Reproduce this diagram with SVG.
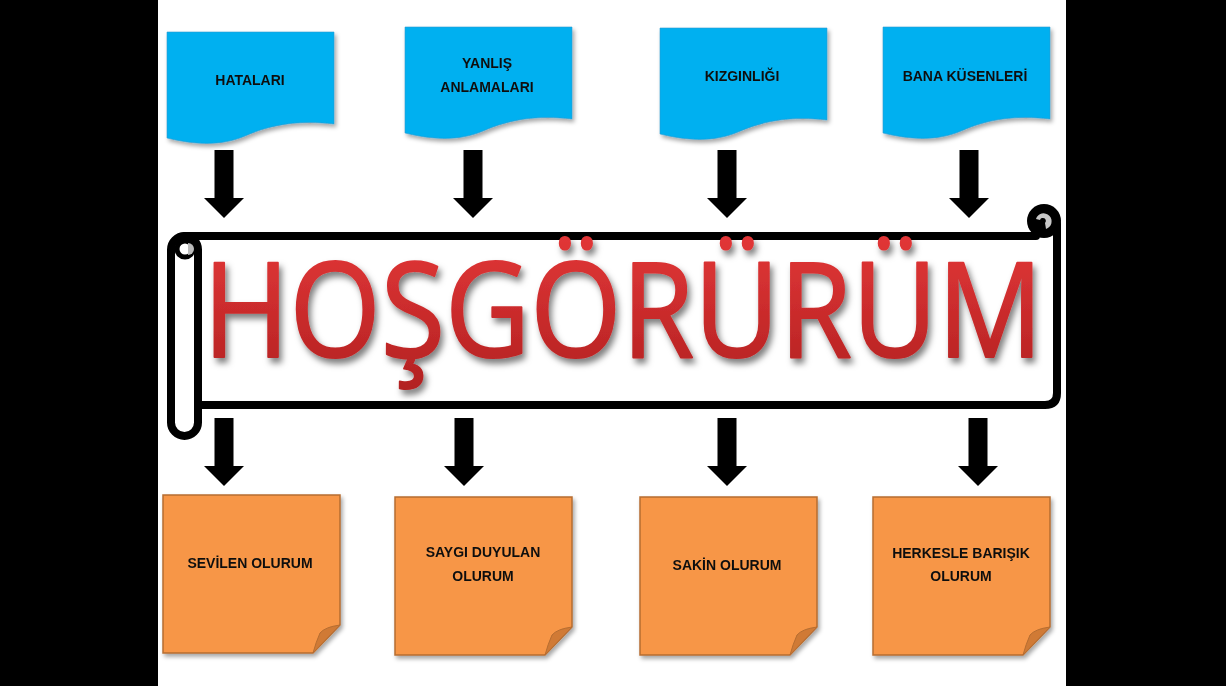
<svg xmlns="http://www.w3.org/2000/svg" width="1226" height="686" viewBox="0 0 1226 686">
<style>
.lbl{font-family:"Liberation Sans",Arial,sans-serif;font-weight:bold;font-size:14px;fill:#111;text-anchor:middle}
.doc{fill:#00B0F0;stroke:#2E9BD0;stroke-width:0.6}
.note{fill:#F79646;stroke:#B66D31;stroke-width:1.5}
.fold{fill:#D07A35;stroke:#B66D31;stroke-width:1}
.arr{fill:#000}
.scroll{fill:none;stroke:#000;stroke-width:8;stroke-linecap:round;stroke-linejoin:round}
</style>
<defs>
<filter id="sh" x="-10%" y="-10%" width="130%" height="130%"><feDropShadow dx="2" dy="3" stdDeviation="2" flood-color="#000" flood-opacity="0.35"/></filter>
<filter id="tsh" x="-5%" y="-10%" width="110%" height="130%"><feDropShadow dx="3" dy="5" stdDeviation="3" flood-color="#000" flood-opacity="0.5"/></filter>
<linearGradient id="red" x1="0" y1="0" x2="0" y2="1"><stop offset="0" stop-color="#E8393A"/><stop offset="1" stop-color="#B02020"/></linearGradient>
<path id="docshape" d="M0,0 H167 V92 C133,88 105,92 78,104 C55,114 28,113 0,106 Z"/>
<g id="noteshape"><path d="M0,0 H177 V130 L150,158 H0 Z"/><path class="fold" d="M177,130 Q162,132 157,138 Q153,147 150,158 Z"/></g>
<path id="arrow" d="M-9.5,0 H9.5 V48 H20 L0,68 L-20,48 H-9.5 Z"/>
</defs>
<rect x="0" y="0" width="1226" height="686" fill="#fff"/>
<rect x="0" y="0" width="158" height="686" fill="#000"/>
<rect x="1066" y="0" width="160" height="686" fill="#000"/>

<g id="doc1" filter="url(#sh)"><use href="#docshape" class="doc" transform="translate(167,32)"/><text class="lbl" x="250" y="85">HATALARI</text></g>
<g id="doc2" filter="url(#sh)"><use href="#docshape" class="doc" transform="translate(405,27)"/><text class="lbl" x="487" y="68">YANLIŞ</text><text class="lbl" x="487" y="92">ANLAMALARI</text></g>
<g id="doc3" filter="url(#sh)"><use href="#docshape" class="doc" transform="translate(660,28)"/><text class="lbl" x="742" y="81">KIZGINLIĞI</text></g>
<g id="doc4" filter="url(#sh)"><use href="#docshape" class="doc" transform="translate(883,27)"/><text class="lbl" x="965" y="81">BANA KÜSENLERİ</text></g>

<g id="connectors">
<use href="#arrow" class="arr" transform="translate(224,150)"/>
<use href="#arrow" class="arr" transform="translate(473,150)"/>
<use href="#arrow" class="arr" transform="translate(727,150)"/>
<use href="#arrow" class="arr" transform="translate(969,150)"/>
<use href="#arrow" class="arr" transform="translate(224,418)"/>
<use href="#arrow" class="arr" transform="translate(464,418)"/>
<use href="#arrow" class="arr" transform="translate(727,418)"/>
<use href="#arrow" class="arr" transform="translate(978,418)"/>
</g>

<g id="scroll">
<path class="scroll" d="M185,236 H1036"/>
<path class="scroll" d="M1057,224 V393 Q1057,405 1045,405 H198"/>
<rect class="scroll" x="171" y="236" width="27" height="200" rx="13.5"/>
<circle cx="185" cy="249" r="8" fill="#fff" stroke="#000" stroke-width="5"/>
<path d="M188,243 A6,6 0 0 1 188,255 Z" fill="#bbb"/>
<circle cx="1044" cy="221" r="17" fill="#000"/>
<path d="M1036,219 A8,8 0 1 1 1046,229 L1045,223 A3,3 0 1 0 1040,220 Z" fill="#c8c8c8"/>
<text x="203" y="357" textLength="840" lengthAdjust="spacingAndGlyphs" font-family="'Open Sans','DejaVu Sans',sans-serif" font-weight="400" font-size="132" fill="url(#red)" stroke="url(#red)" stroke-width="2" stroke-linejoin="round" filter="url(#tsh)">HOŞGÖRÜRÜM</text>
</g>

<g id="note1" filter="url(#sh)"><use href="#noteshape" class="note" transform="translate(163,495)"/><text class="lbl" x="250" y="568">SEVİLEN OLURUM</text></g>
<g id="note2" filter="url(#sh)"><use href="#noteshape" class="note" transform="translate(395,497)"/><text class="lbl" x="483" y="557">SAYGI DUYULAN</text><text class="lbl" x="483" y="581">OLURUM</text></g>
<g id="note3" filter="url(#sh)"><use href="#noteshape" class="note" transform="translate(640,497)"/><text class="lbl" x="727" y="570">SAKİN OLURUM</text></g>
<g id="note4" filter="url(#sh)"><use href="#noteshape" class="note" transform="translate(873,497)"/><text class="lbl" x="961" y="558">HERKESLE BARIŞIK</text><text class="lbl" x="961" y="581">OLURUM</text></g>
</svg>
